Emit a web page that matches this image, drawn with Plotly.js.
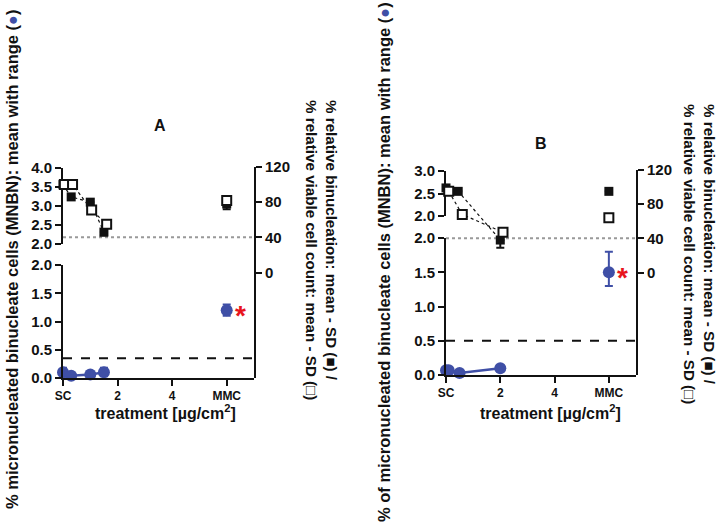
<!DOCTYPE html>
<html><head><meta charset="utf-8">
<script src="https://cdn.plot.ly/plotly-3.0.1.min.js"></script>
<style>html,body{margin:0;padding:0;background:#fff}#c{width:719px;height:524px}</style>
</head><body><div id="c"></div>
<script>
// ---- shared tick labels ----
const xTickVals = [0, 2, 4, 6];
const xTickText = ['SC', '2', '4', 'MMC'];
const pctTicks = [0, 40, 80, 120];

// ---- Panel A ----
const A_mnX = [0, 0.3, 1, 1.5];
const A_mn = [0.10, 0.04, 0.06, 0.10];
const A_mnHi = [0.18, 0.06, 0.08, 0.18];
const A_mnLo = [0.02, 0.02, 0.04, 0.03];
const A_mmcMn = [1.2], A_mmcHi = [1.3], A_mmcLo = [1.1];
const A_binX = [0, 0.3, 1, 1.5];
const A_bin = [100, 86, 80, 46];
const A_binSD = [0, 0, 3, 4];
const A_vcX = [0.05, 0.35, 1.05, 1.6];
const A_vc = [100, 100, 71, 55];
const A_mmcBin = [78], A_mmcBinSD = [6];
const A_mmcVc = [82];
const A_threshold = 0.35;

// ---- Panel B ----
const B_mnX = [0, 0.1, 0.5, 2];
const B_mn = [0.07, 0.07, 0.03, 0.10];
const B_mnHi = [0.09, 0.09, 0.05, 0.12];
const B_mnLo = [0.05, 0.05, 0.01, 0.08];
const B_mmcMn = [1.5], B_mmcHi = [1.8], B_mmcLo = [1.3];
const B_binX = [0, 0.45, 2];
const B_bin = [99, 95, 38];
const B_binSD = [0, 0, 9];
const B_vcX = [0.1, 0.6, 2.1];
const B_vc = [95, 68, 47];
const B_mmcBin = [95], B_mmcBinSD = [0];
const B_mmcVc = [64], B_mmcVcSD = [4];
const B_threshold = 0.5;

const refPct = 40;
const mmcX = [6];

const BLUE = '#3f4fa6', BLACK = '#111';
const FONT = 'Liberation Sans, Arial, sans-serif';

function errArr(hi, mid, lo){
  return {type:'data', symmetric:false, array: hi.map((h,i)=>h-mid[i]), arrayminus: lo.map((l,i)=>mid[i]-l),
          color: BLUE, thickness: 2, width: 4};
}
function minusSD(sd){
  return {type:'data', symmetric:false, array: sd.map(()=>0), arrayminus: sd, color: BLACK, thickness: 2, width: 4};
}

function panel(xa, yUp, yLow, yPct, d){
  const tr = [];
  // placeholder so the upper (broken) left axis is drawn
  tr.push({x:[3], y:[null], xaxis: xa, yaxis: yUp, type:'scatter', mode:'markers', marker:{opacity:0}, hoverinfo:'skip', showlegend:false});
  tr.push({x: d.binX, y: d.bin, xaxis: xa, yaxis: yPct, type:'scatter', mode:'lines+markers',
    line:{color:BLACK, width:1.2, dash:'dot'}, marker:{symbol:'square', size:9, color:BLACK},
    error_y: minusSD(d.binSD), cliponaxis:false, showlegend:false});
  tr.push({x: d.vcX, y: d.vc, xaxis: xa, yaxis: yPct, type:'scatter', mode:'lines+markers',
    line:{color:BLACK, width:1.2, dash:'dot'}, marker:{symbol:'square', size:9, color:'#fff', line:{color:BLACK, width:2}},
    cliponaxis:false, showlegend:false});
  tr.push({x: mmcX, y: d.mmcBin, xaxis: xa, yaxis: yPct, type:'scatter', mode:'markers',
    marker:{symbol:'square', size:9, color:BLACK}, error_y: minusSD(d.mmcBinSD), cliponaxis:false, showlegend:false});
  tr.push({x: mmcX, y: d.mmcVc, xaxis: xa, yaxis: yPct, type:'scatter', mode:'markers',
    marker:{symbol:'square', size:9, color:'#fff', line:{color:BLACK, width:2}},
    error_y: d.mmcVcSD ? minusSD(d.mmcVcSD) : undefined, cliponaxis:false, showlegend:false});
  tr.push({x: d.mnX, y: d.mn, xaxis: xa, yaxis: yLow, type:'scatter', mode:'lines+markers',
    line:{color:BLUE, width:2.5}, marker:{symbol:'circle', size:12, color:BLUE},
    error_y: errArr(d.mnHi, d.mn, d.mnLo), cliponaxis:false, showlegend:false});
  tr.push({x: mmcX, y: d.mmcMn, xaxis: xa, yaxis: yLow, type:'scatter', mode:'markers',
    marker:{symbol:'circle', size:12, color:BLUE},
    error_y: errArr(d.mmcHi, d.mmcMn, d.mmcLo), cliponaxis:false, showlegend:false});
  return tr;
}

const data = [].concat(
  panel('x', 'y', 'y2', 'y3', {binX:A_binX, bin:A_bin, binSD:A_binSD, vcX:A_vcX, vc:A_vc, mmcBin:A_mmcBin, mmcBinSD:A_mmcBinSD, mmcVc:A_mmcVc,
    mnX:A_mnX, mn:A_mn, mnHi:A_mnHi, mnLo:A_mnLo, mmcMn:A_mmcMn, mmcHi:A_mmcHi, mmcLo:A_mmcLo}),
  panel('x2', 'y4', 'y5', 'y6', {binX:B_binX, bin:B_bin, binSD:B_binSD, vcX:B_vcX, vc:B_vc, mmcBin:B_mmcBin, mmcBinSD:B_mmcBinSD, mmcVc:B_mmcVc, mmcVcSD:B_mmcVcSD,
    mnX:B_mnX, mn:B_mn, mnHi:B_mnHi, mnLo:B_mnLo, mmcMn:B_mmcMn, mmcHi:B_mmcHi, mmcLo:B_mmcLo})
);

const W = 719, H = 524;
const px = v => v / W;
const py = v => (H - v) / H;

function yax(dom, range, anchor, extra){
  return Object.assign({domain: dom, range: range, autorange:false, anchor: anchor, showline:true, linecolor:BLACK, linewidth:2,
    ticks:'outside', ticklen:6, tickwidth:2, tickcolor:BLACK, showgrid:false, zeroline:false, fixedrange:true,
    tickfont:{family:FONT, size:15, color:BLACK, weight:'bold'}}, extra || {});
}
function xax(dom, anchor){
  return {domain: dom, range:[0,7], autorange:false, anchor: anchor, showline:true, linecolor:BLACK, linewidth:2,
    ticks:'outside', ticklen:6, tickwidth:2, tickcolor:BLACK, showgrid:false, zeroline:false, fixedrange:true,
    tickvals: xTickVals, ticktext: xTickText, tickfont:{family:FONT, size:12, color:BLACK, weight:'bold'}};
}

function ann(text, x, y, size, extra){
  return Object.assign({text:text, xref:'paper', yref:'paper', x:px(x), y:py(y), xanchor:'center', yanchor:'middle',
    showarrow:false, font:{family:FONT, size:size, color:BLACK, weight:'bold'}}, extra || {});
}

const rightTitle = '% relative binucleation: mean - SD (■) /<br>% relative viable cell count: mean - SD (□)';
const dot = '(<span style="color:'+BLUE+'">●</span>)';

const layout = {
  width: W, height: H, margin:{l:0, r:0, t:0, b:0},
  paper_bgcolor:'#fff', plot_bgcolor:'rgba(0,0,0,0)', showlegend:false,
  font:{family:FONT, color:BLACK},
  xaxis: xax([px(63), px(254)], 'y2'),
  yaxis: yax([py(244), py(168)], [2,4], 'x', {dtick:0.5, tick0:2, tickformat:'.1f'}),
  yaxis2: yax([py(378), py(265)], [0,2], 'x', {dtick:0.5, tick0:0, tickformat:'.1f'}),
  yaxis3: yax([py(378), py(167)], [-120,120], 'x', {side:'right', tickvals:pctTicks}),
  xaxis2: xax([px(446), px(636)], 'y5'),
  yaxis4: yax([py(216), py(171)], [2,3], 'x2', {dtick:0.5, tick0:2, tickformat:'.1f'}),
  yaxis5: yax([py(375), py(238)], [0,2], 'x2', {dtick:0.5, tick0:0, tickformat:'.1f'}),
  yaxis6: yax([py(375), py(170)], [-120,120], 'x2', {side:'right', tickvals:pctTicks}),
  shapes: [
    {type:'line', xref:'x', yref:'y3', x0:0, x1:7, y0:refPct, y1:refPct, line:{color:'#999', width:2, dash:'dot'}, layer:'below'},
    {type:'line', xref:'x', yref:'y2', x0:0, x1:7, y0:A_threshold, y1:A_threshold, line:{color:BLACK, width:2, dash:'dash'}, layer:'below'},
    {type:'line', xref:'x2', yref:'y6', x0:0, x1:7, y0:refPct, y1:refPct, line:{color:'#999', width:2, dash:'dot'}, layer:'below'},
    {type:'line', xref:'x2', yref:'y5', x0:0, x1:7, y0:B_threshold, y1:B_threshold, line:{color:BLACK, width:2, dash:'dash'}, layer:'below'}
  ],
  annotations: [
    ann('A', 160, 125, 16),
    ann('B', 541, 143, 16),
    {text:'*', xref:'x', yref:'y2', x:6.5, y:A_mmcMn[0], xanchor:'center', yanchor:'middle', showarrow:false, yshift:-5, font:{family:FONT, size:28, color:'#e8141c', weight:'bold'}},
    {text:'*', xref:'x2', yref:'y5', x:6.5, y:B_mmcMn[0], xanchor:'center', yanchor:'middle', showarrow:false, yshift:-5, font:{family:FONT, size:28, color:'#e8141c', weight:'bold'}},
    ann('% micronucleated binucleate cells (MNBN): mean with range ' + dot, 12, 259, 16.5, {textangle:-90}),
    ann('% of micronucleated binucleate cells (MNBN): mean with range ' + dot, 384, 262, 16.5, {textangle:-90}),
    ann(rightTitle, 321, 250, 15.2, {textangle:90, align:'left'}),
    ann(rightTitle, 700, 254, 15.2, {textangle:90, align:'left'}),
    ann('treatment [µg/cm<sup>2</sup>]', 165, 412, 16),
    ann('treatment [µg/cm<sup>2</sup>]', 550, 412, 16)
  ]
};

Plotly.newPlot('c', data, layout, {staticPlot:true, displayModeBar:false});
</script></body></html>
